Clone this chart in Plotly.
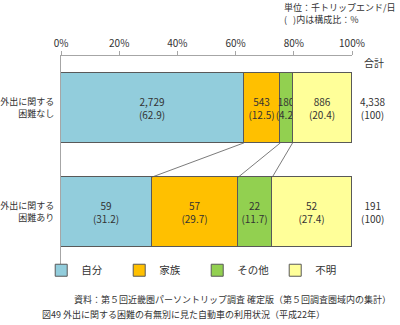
import plotly.graph_objects as go

categories = ["外出に関する<br>困難なし", "外出に関する<br>困難あり"]
series = ["自分", "家族", "その他", "不明"]
counts = {
    "自分": ["2,729", "59"],
    "家族": ["543", "57"],
    "その他": ["180", "22"],
    "不明": ["886", "52"],
}
shares = {
    "自分": [62.9, 31.2],
    "家族": [12.5, 29.7],
    "その他": [4.2, 11.7],
    "不明": [20.4, 27.4],
}
totals = ["4,338", "191"]
colors = {"自分": "#92CDDC", "家族": "#FFC000", "その他": "#92D050", "不明": "#FFFF99"}
xticks = [0, 20, 40, 60, 80, 100]

FONT = "Noto Sans CJK JP"
TXT = "#333333"
ypos = [0, 1]
bar_w = 0.67

fig = go.Figure()
for s in series:
    fig.add_trace(go.Bar(
        name=s, orientation="h", y=ypos, x=shares[s], width=bar_w,
        marker=dict(color=colors[s], line=dict(color="#595959", width=1)),
        text=[f"{c}<br>({p:.1f})" for c, p in zip(counts[s], shares[s])],
        textposition="inside", insidetextanchor="middle", constraintext="none",
        textfont=dict(family=FONT, size=10, color=TXT),
        hoverinfo="skip",
    ))

# connector lines between the two bars
cum0, cum1 = 0.0, 0.0
for s in series[:-1]:
    cum0 += shares[s][0]
    cum1 += shares[s][1]
    fig.add_trace(go.Scatter(
        x=[cum0, cum1], y=[ypos[0] + bar_w / 2, ypos[1] - bar_w / 2],
        mode="lines", line=dict(color="#595959", width=0.8),
        showlegend=False, hoverinfo="skip",
    ))

# totals
for yv, t in zip(ypos, totals):
    fig.add_annotation(x=1.072, xref="paper", y=yv, yref="y", text=f"{t}<br>(100)",
                       xanchor="center", yanchor="middle",
                       showarrow=False, font=dict(family=FONT, size=10, color=TXT))
fig.add_annotation(x=1.075, xref="paper", y=-0.44, yref="y", text="合計", showarrow=False,
                   xanchor="center", yanchor="middle",
                   font=dict(family=FONT, size=10, color=TXT))

# header notes
fig.add_annotation(x=1.157, xref="paper", xanchor="right", y=1.205, yref="paper",
                   yanchor="middle",
                   text="単位：千トリップエンド/日<br>(   )内は構成比：%", align="left",
                   showarrow=False, font=dict(family=FONT, size=9, color=TXT))

# footer
fig.add_annotation(x=1.14, xref="paper", xanchor="right", y=-0.173, yref="paper",
                   yanchor="middle",
                   text="資料：第５回近畿圏パーソントリップ調査 確定版（第５回調査圏域内の集計）",
                   showarrow=False, font=dict(family=FONT, size=9, color=TXT))
fig.add_annotation(x=-0.072, xref="paper", xanchor="left", y=-0.245, yref="paper",
                   yanchor="middle",
                   text="図49 外出に関する困難の有無別に見た自動車の利用状況（平成22年）",
                   showarrow=False, font=dict(family=FONT, size=9, color=TXT))

fig.update_layout(
    barmode="stack", bargap=0,
    width=400, height=325,
    margin=dict(l=61, r=48, t=56, b=61, autoexpand=False),
    plot_bgcolor="white", paper_bgcolor="white",
    font=dict(family=FONT, size=10, color=TXT),
    showlegend=True,
    legend=dict(orientation="h", traceorder="normal", x=-0.068, xanchor="left",
                y=-0.03, yanchor="middle",
                entrywidth=33, entrywidthmode="pixels", itemwidth=30,
                font=dict(family=FONT, size=10.5, color=TXT),
                bgcolor="rgba(0,0,0,0)"),
    xaxis=dict(range=[0, 100], side="top", tickvals=xticks, automargin=False,
               ticktext=[f"{v}%" for v in xticks], showgrid=False, zeroline=False,
               showline=True, linecolor="#A6A6A6", linewidth=1, ticks="outside",
               ticklen=4, tickcolor="#A6A6A6", tickfont=dict(size=10, color=TXT)),
    yaxis=dict(range=[1.5, -0.5], tickvals=ypos, ticktext=categories, showgrid=False,
               automargin=False, zeroline=False, showline=True, linecolor="#A6A6A6",
               linewidth=1, ticks="", ticklabelstandoff=4,
               tickfont=dict(size=9, color=TXT)),
)
fig.write_html("out.html")
